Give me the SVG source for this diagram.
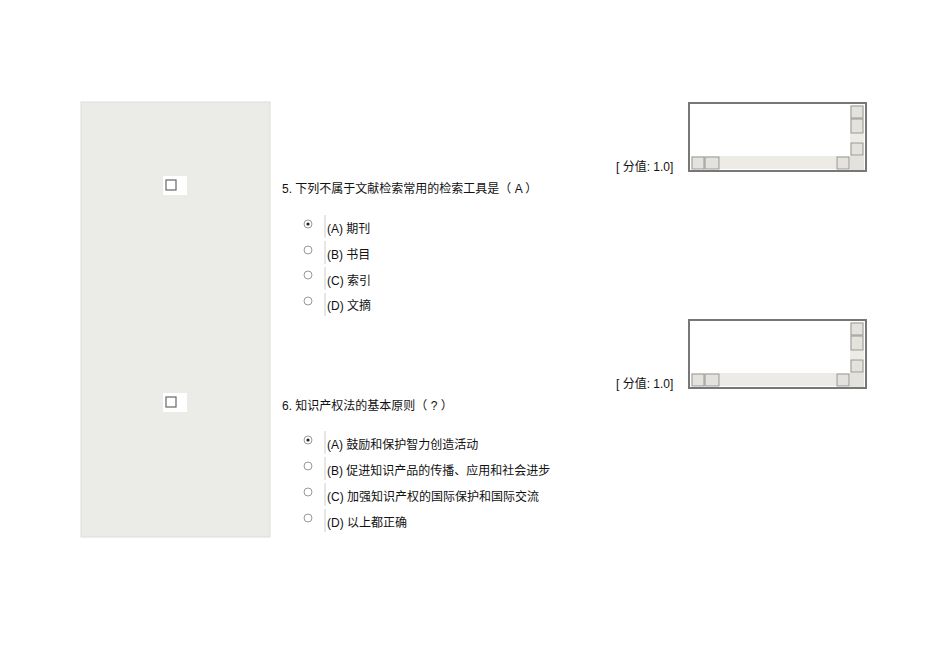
<svg xmlns="http://www.w3.org/2000/svg" width="950" height="672" viewBox="0 0 950 672">
<defs>
<style>
text{font-family:"Liberation Sans","Noto Sans CJK SC",sans-serif;font-size:12px;fill:#111}
.sb{fill:#e4e2dc;stroke:#888;stroke-width:0.8}
.tr{fill:#ecebe6}
.rad{fill:#fff;stroke:#999;stroke-width:1}
.bar{stroke:#ccc;stroke-width:1}
</style>
<g id="box">
<rect x="0" y="0" width="177" height="68" fill="#fff" stroke="#777" stroke-width="2"/>
<rect class="tr" x="161" y="2" width="14" height="51"/>
<rect class="sb" x="162" y="3" width="12" height="12"/>
<rect class="sb" x="162" y="16" width="12" height="14"/>
<rect class="sb" x="162" y="40" width="12" height="12"/>
<rect class="tr" x="2" y="53" width="159" height="13"/>
<rect class="sb" x="3" y="54" width="12" height="12"/>
<rect class="sb" x="16" y="54" width="14" height="12"/>
<rect class="sb" x="148" y="54" width="12" height="12"/>
<rect x="161" y="53" width="14" height="14" fill="#e4e2dc"/>
</g>
</defs>
<rect id="panel" x="81" y="102" width="189" height="435" fill="#ebebe7" stroke="#ddd" stroke-width="1"/>
<g id="q5">
<use href="#box" x="689" y="103"/>
<text x="616" y="171">[ 分值:   1.0]</text>
<rect x="163" y="176" width="24" height="19" fill="#fff"/>
<rect x="166" y="180" width="10" height="10" fill="#fff" stroke="#666" stroke-width="1.2"/>
<text x="282" y="193">5.  下列不属于文献检索常用的检索工具是（        A        ）</text>
<circle class="rad" cx="308" cy="224" r="4"/><circle cx="308" cy="224" r="1.6" fill="#222"/>
<circle class="rad" cx="308" cy="250" r="4"/>
<circle class="rad" cx="308" cy="275" r="4"/>
<circle class="rad" cx="308" cy="301" r="4"/>
<line class="bar" x1="325" y1="215" x2="325" y2="238"/>
<line class="bar" x1="325" y1="241" x2="325" y2="264"/>
<line class="bar" x1="325" y1="267" x2="325" y2="290"/>
<line class="bar" x1="325" y1="293" x2="325" y2="316"/>
<text x="327" y="233">(A)  期刊</text>
<text x="327" y="259">(B)  书目</text>
<text x="327" y="285">(C)  索引</text>
<text x="327" y="310">(D)  文摘</text>
</g>
<g id="q6">
<use href="#box" x="689" y="320"/>
<text x="616" y="388">[ 分值:   1.0]</text>
<rect x="163" y="393" width="24" height="19" fill="#fff"/>
<rect x="166" y="397" width="10" height="10" fill="#fff" stroke="#666" stroke-width="1.2"/>
<text x="282" y="410">6.  知识产权法的基本原则（        ?        ）</text>
<circle class="rad" cx="308" cy="440" r="4"/><circle cx="308" cy="440" r="1.6" fill="#222"/>
<circle class="rad" cx="308" cy="466" r="4"/>
<circle class="rad" cx="308" cy="492" r="4"/>
<circle class="rad" cx="308" cy="518" r="4"/>
<line class="bar" x1="325" y1="431" x2="325" y2="454"/>
<line class="bar" x1="325" y1="457" x2="325" y2="480"/>
<line class="bar" x1="325" y1="483" x2="325" y2="506"/>
<line class="bar" x1="325" y1="509" x2="325" y2="532"/>
<text x="327" y="449">(A)  鼓励和保护智力创造活动</text>
<text x="327" y="475">(B)  促进知识产品的传播、应用和社会进步</text>
<text x="327" y="501">(C)  加强知识产权的国际保护和国际交流</text>
<text x="327" y="527">(D)  以上都正确</text>
</g>
</svg>
